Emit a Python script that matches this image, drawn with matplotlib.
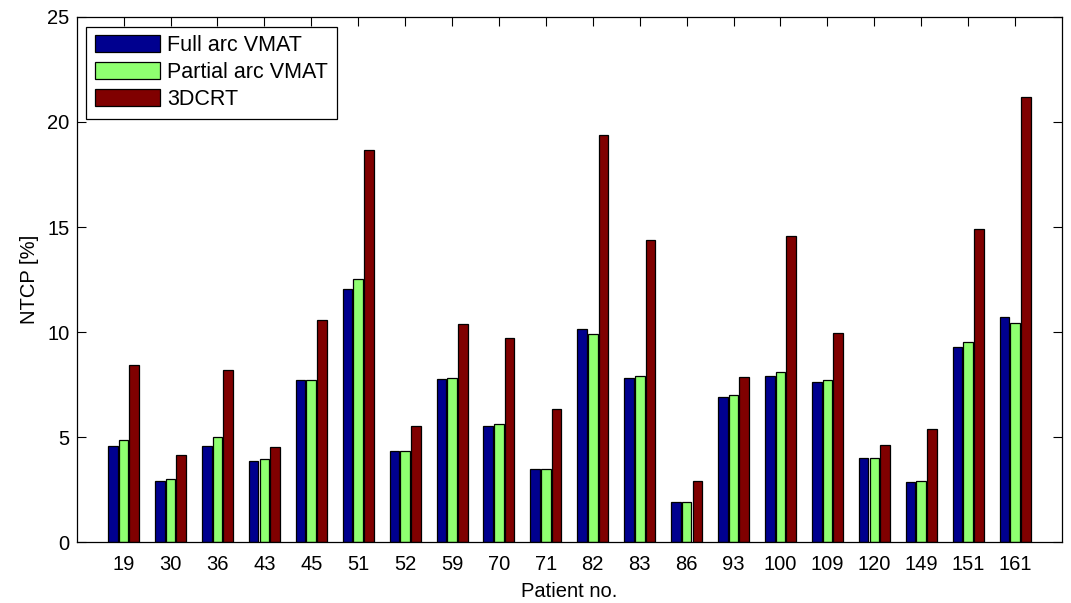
import numpy as np
import matplotlib.pyplot as plt

plt.rcParams['font.family'] = ['Liberation Sans', 'DejaVu Sans']

patients = ['19', '30', '36', '43', '45', '51', '52', '59', '70', '71',
            '82', '83', '86', '93', '100', '109', '120', '149', '151', '161']
full_arc = [4.60, 2.91, 4.58, 3.89, 7.72, 12.03, 4.32, 7.77, 5.51, 3.51,
            10.17, 7.80, 1.94, 6.89, 7.92, 7.64, 4.03, 2.85, 9.31, 10.74]
partial_arc = [4.86, 3.03, 4.99, 3.94, 7.72, 12.52, 4.32, 7.83, 5.65, 3.49,
               9.90, 7.93, 1.91, 6.99, 8.11, 7.74, 4.00, 2.90, 9.52, 10.44]
crt3d = [8.42, 4.15, 8.21, 4.54, 10.58, 18.68, 5.54, 10.39, 9.74, 6.32,
         19.38, 14.36, 2.91, 7.88, 14.57, 9.98, 4.62, 5.41, 14.89, 21.20]

series = [
    ('Full arc VMAT', full_arc, '#00008f'),
    ('Partial arc VMAT', partial_arc, '#8fff70'),
    ('3DCRT', crt3d, '#800000'),
]

fig = plt.figure(figsize=(10.71, 6.03), dpi=100)
ax = fig.add_axes([0.0716, 0.1007, 0.9200, 0.8713])

x = np.arange(1, len(patients) + 1)
width = 0.205
offsets = [-0.228, 0.0, 0.228]
for (label, vals, color), off in zip(series, offsets):
    ax.bar(x + off, vals, width, color=color, edgecolor='black',
           linewidth=0.9, label=label, zorder=2)

ax.set_xlim(0, 21)
ax.set_ylim(0, 25)
ax.set_xticks(x)
ax.set_xticklabels(patients)
ax.set_yticks(np.arange(0, 26, 5))
ax.tick_params(direction='in', length=6.5, width=0.8, labelsize=14.5,
               top=True, right=True, pad=5)
ax.tick_params(axis='x', pad=9)
for sp in ax.spines.values():
    sp.set_linewidth(0.9)

ax.set_xlabel('Patient no.', fontsize=14.5, labelpad=6)
ax.set_ylabel('NTCP [%]', fontsize=14.5, labelpad=6)

leg = ax.legend(loc='upper left', fontsize=15.5, handlelength=3.0,
                handleheight=0.85, borderaxespad=0.45, labelspacing=0.28,
                handletextpad=0.35, borderpad=0.4, fancybox=False,
                framealpha=1, edgecolor='black')
leg.get_frame().set_linewidth(0.9)

fig.savefig('out.png', dpi=100)
